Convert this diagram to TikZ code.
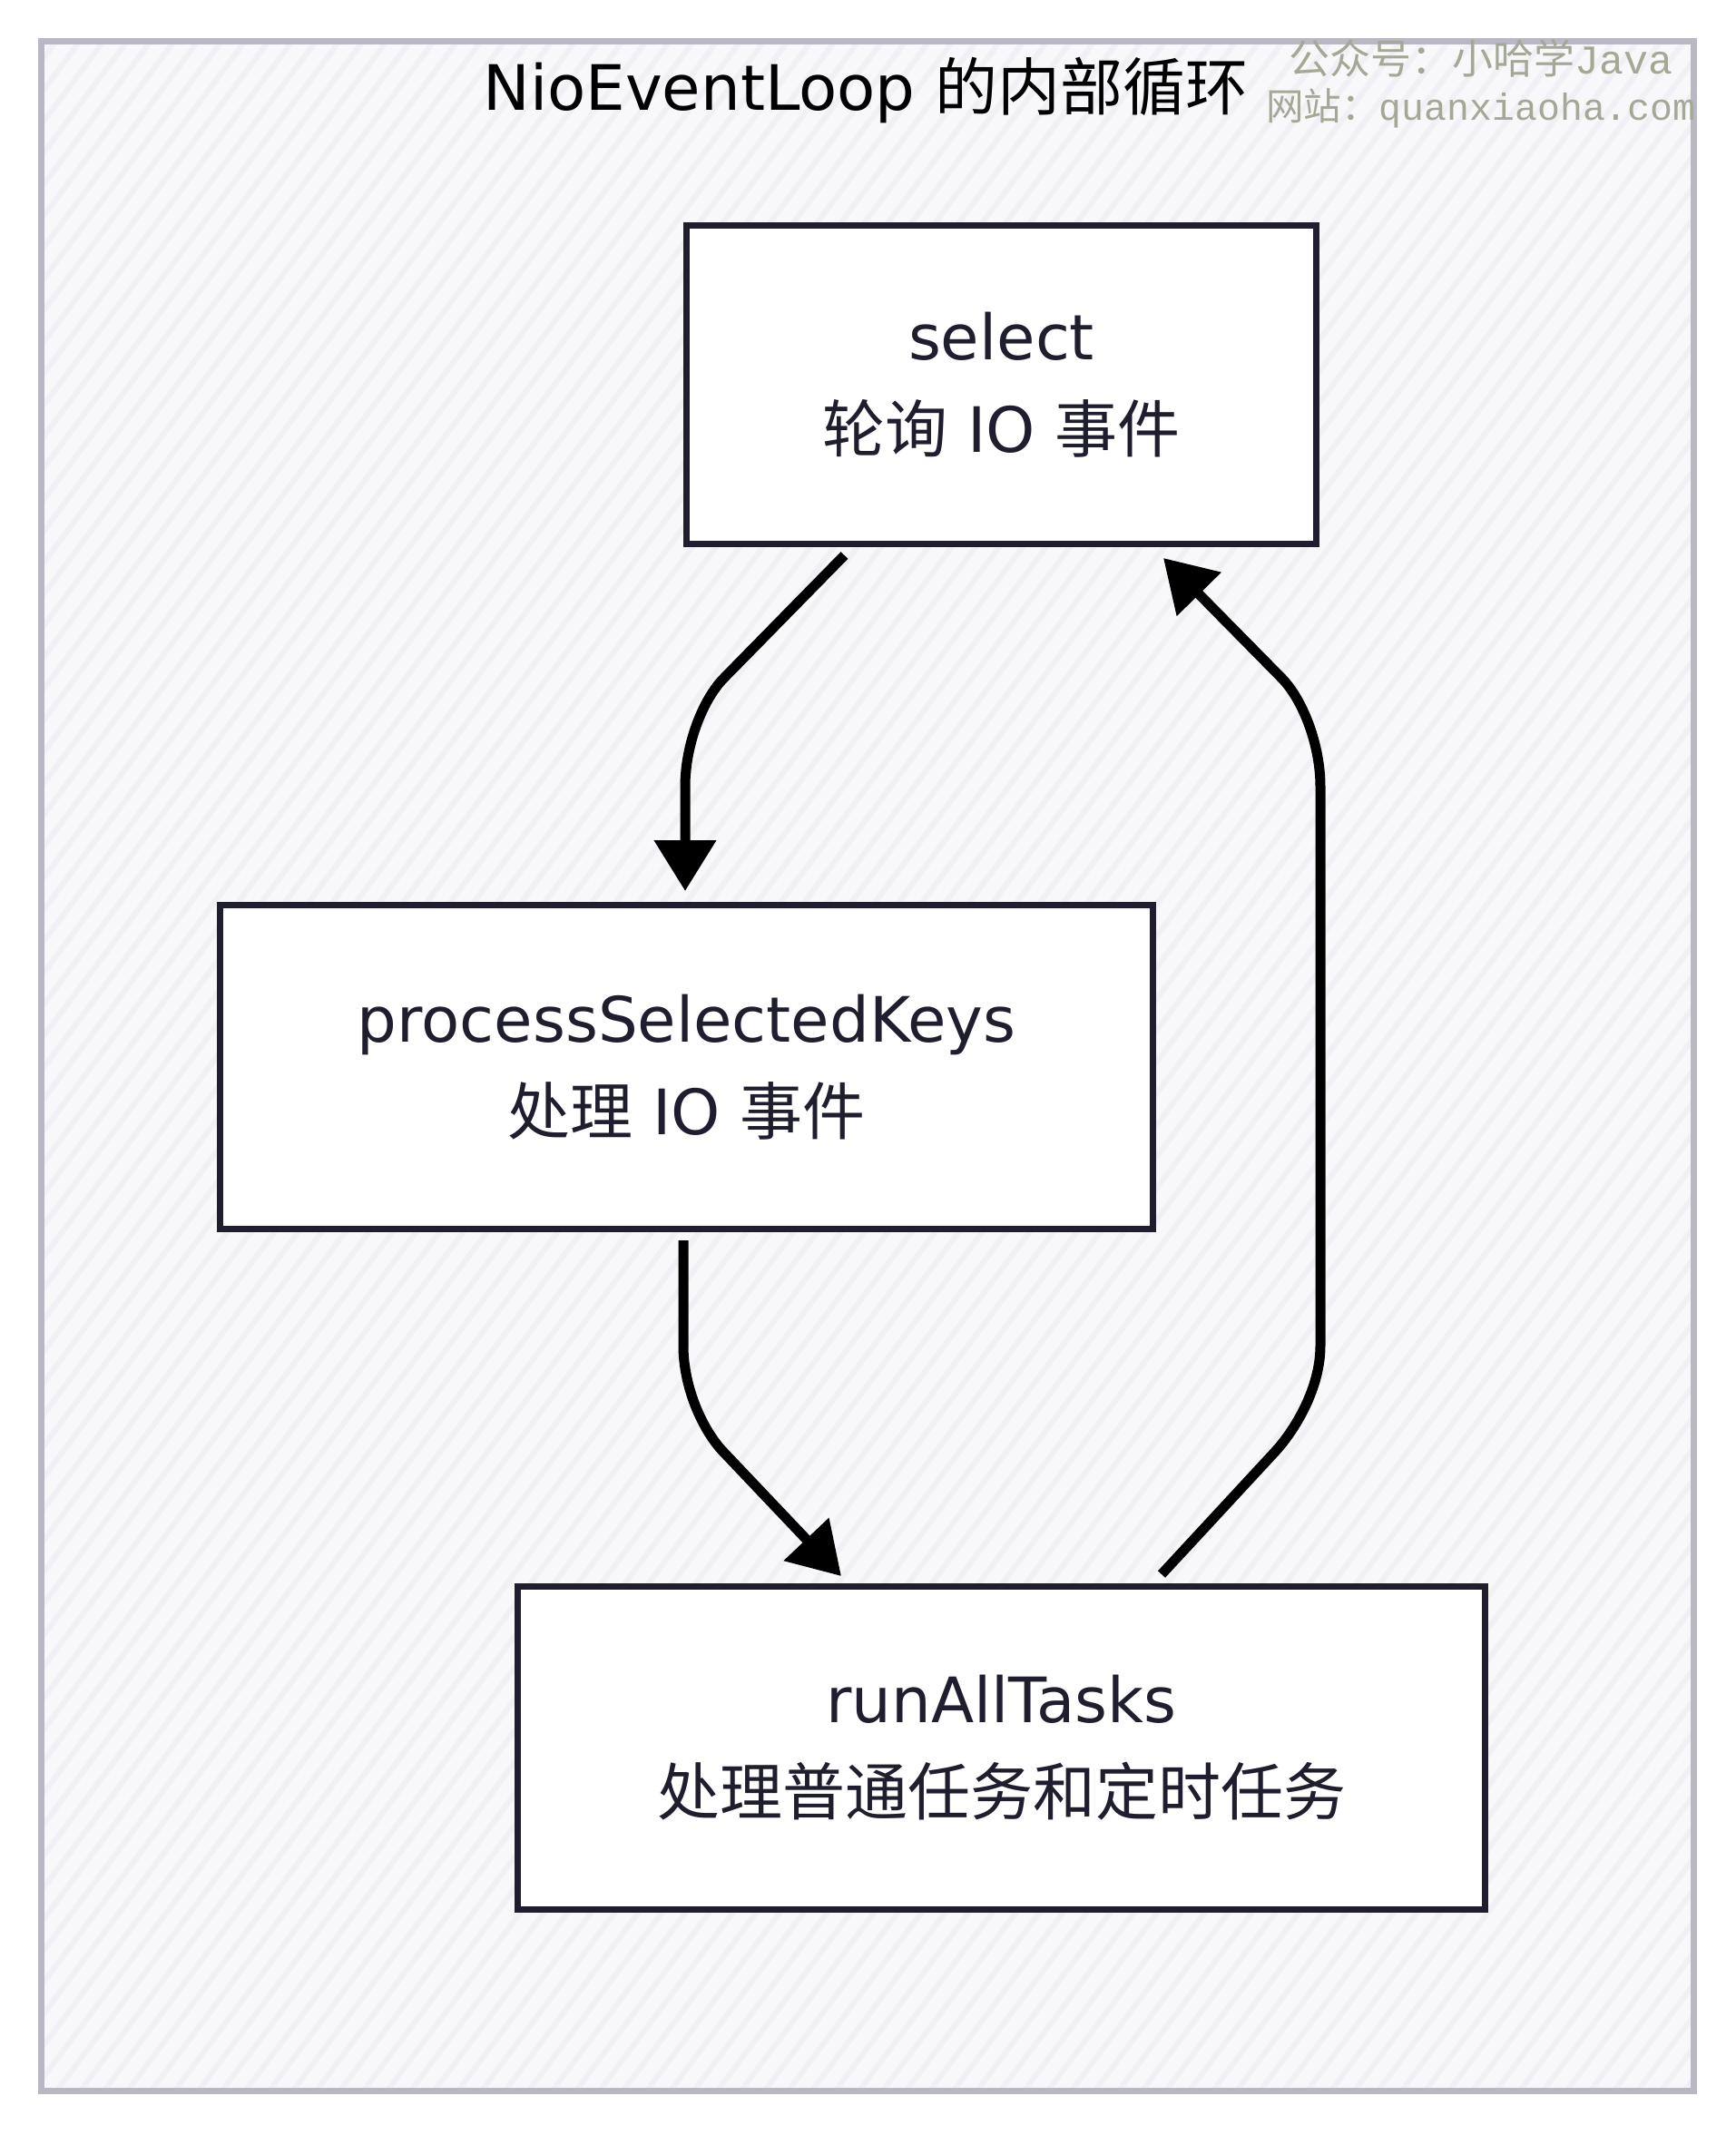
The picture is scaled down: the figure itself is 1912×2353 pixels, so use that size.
\documentclass[tikz,border=0pt]{standalone}
\usepackage{fontspec}
\setmainfont{DejaVu Sans}
\newfontfamily\cjk{Noto Sans CJK SC}
\newfontfamily\wmlat{Liberation Mono}
\usetikzlibrary{arrows.meta,calc}
\definecolor{ink}{HTML}{1E1E2E}
\definecolor{framec}{HTML}{B8B8C2}
\definecolor{bgc}{HTML}{F8F8FA}
\definecolor{hatchc}{HTML}{F1F1F5}
\definecolor{wmc}{HTML}{A4A896}
\begin{document}
\begin{tikzpicture}[x=1pt,y=-1pt,
  stepbox/.style={draw=ink,line width=7pt,fill=white,inner sep=0pt,align=center,text=ink,font=\fontsize{69}{102}\selectfont},
  arr/.style={line width=11pt,draw=black,line join=round,-{Triangle[length=56pt,width=66pt]}},
  ]
\useasboundingbox (0,0) rectangle (1912,2353);
\fill[white] (0,0) rectangle (1912,2353);
\begin{scope}
\clip (45,45) rectangle (1866,2304);
\fill[bgc] (45,45) rectangle (1866,2304);
\foreach \i in {-70,...,75} { \draw[hatchc,line width=6pt] (\i*26,2353) -- ++(1760,-2353); }
\end{scope}
\draw[framec,line width=7pt] (45,45) rectangle (1866,2304);

\node[font=\fontsize{69}{80}\selectfont,text=black] (title) at (954,100) {NioEventLoop {\cjk 的内部循环}};
\node[text=wmc,align=center,font=\fontsize{45}{51}\selectfont] (wm) at (1632,92) {{\cjk 公众号：小哈学}{\wmlat Java}\\{\fontsize{41.5}{51}\selectfont{\cjk 网站：}{\wmlat quanxiaoha.com}}};

\node[stepbox,minimum width=694pt,minimum height=351pt] (sel) at (1103.5,424) {select\\{\cjk 轮询} IO {\cjk 事件}};
\node[stepbox,minimum width=1028pt,minimum height=357pt] (proc) at (756.5,1176) {processSelectedKeys\\{\cjk 处理} IO {\cjk 事件}};
\node[stepbox,minimum width=1066pt,minimum height=356pt] (run) at (1103.5,1926.5) {runAllTasks\\{\cjk 处理普通任务和定时任务}};

\draw[arr] ([shift={(-173,9)}]sel.south) -- (798,747) .. controls (775,770) and (755,820) .. (755,867) -- ([shift={(-1.5,-12)}]proc.north);
\draw[arr] ([shift={(-3.5,9)}]proc.south) -- (753,1483) .. controls (753,1530) and (775,1577) .. (797,1600) -- ([shift={(-176.5,-8)}]run.north);
\draw[arr] ([shift={(176.5,-10)}]run.north) -- (1405,1600) .. controls (1427,1576) and (1455,1530) .. (1455,1483) -- (1455,867) .. controls (1455,820) and (1435,770) .. (1412,747) -- ([shift={(178.5,12)}]sel.south);
\end{tikzpicture}
\end{document}
